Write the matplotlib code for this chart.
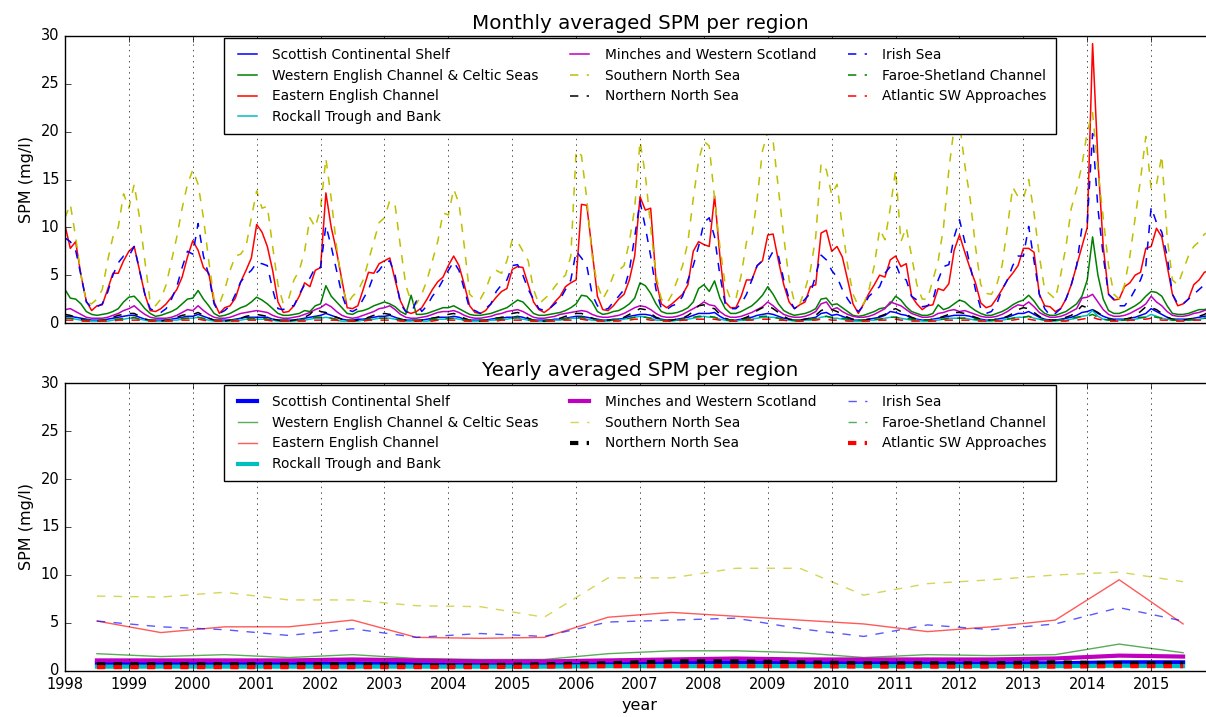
import numpy as np
import matplotlib
matplotlib.use('Agg')
import matplotlib.pyplot as plt

plt.style.use('classic')

years = list(range(1998, 2016))
mid_years = [y + 0.5 for y in years]

regions = ['Scottish Continental Shelf', 'Western English Channel & Celtic Seas',
           'Eastern English Channel', 'Rockall Trough and Bank',
           'Minches and Western Scotland', 'Southern North Sea', 'Northern North Sea',
           'Irish Sea', 'Faroe-Shetland Channel', 'Atlantic SW Approaches']

# monthly averaged SPM (mg/l), one row per year, Jan..Dec
scs_monthly = [
    [0.7, 0.7, 0.6, 0.5, 0.4, 0.3, 0.3, 0.3, 0.4, 0.5, 0.6, 0.7],
    [0.8, 0.8, 0.6, 0.4, 0.3, 0.3, 0.3, 0.3, 0.4, 0.5, 0.6, 0.7],
    [0.7, 0.9, 0.7, 0.5, 0.3, 0.3, 0.3, 0.3, 0.4, 0.5, 0.6, 0.6],
    [0.6, 0.6, 0.6, 0.4, 0.3, 0.3, 0.3, 0.3, 0.4, 0.5, 0.6, 0.7],
    [0.8, 1.0, 0.8, 0.6, 0.4, 0.3, 0.3, 0.4, 0.4, 0.5, 0.6, 0.7],
    [0.7, 0.8, 0.6, 0.4, 0.3, 0.3, 0.3, 0.3, 0.4, 0.5, 0.6, 0.6],
    [0.6, 0.7, 0.6, 0.4, 0.3, 0.3, 0.3, 0.3, 0.4, 0.5, 0.5, 0.6],
    [0.6, 0.7, 0.6, 0.4, 0.3, 0.3, 0.3, 0.3, 0.4, 0.4, 0.5, 0.6],
    [0.7, 0.7, 0.6, 0.5, 0.4, 0.3, 0.3, 0.4, 0.4, 0.5, 0.7, 0.8],
    [0.9, 0.9, 0.8, 0.5, 0.4, 0.3, 0.3, 0.4, 0.5, 0.6, 0.8, 1.0],
    [1.0, 1.0, 1.1, 0.7, 0.4, 0.3, 0.3, 0.4, 0.5, 0.6, 0.8, 0.9],
    [1.0, 0.9, 0.7, 0.5, 0.4, 0.3, 0.3, 0.4, 0.5, 0.6, 1.0, 1.1],
    [0.8, 0.9, 0.7, 0.5, 0.3, 0.3, 0.3, 0.4, 0.5, 0.6, 0.8, 1.2],
    [1.1, 0.9, 0.8, 0.5, 0.4, 0.3, 0.3, 0.4, 0.5, 0.6, 0.7, 0.8],
    [0.8, 0.8, 0.7, 0.5, 0.4, 0.3, 0.3, 0.4, 0.5, 0.6, 0.8, 1.0],
    [1.0, 1.2, 0.9, 0.6, 0.4, 0.3, 0.3, 0.4, 0.5, 0.6, 0.8, 1.1],
    [1.2, 1.4, 1.0, 0.7, 0.5, 0.4, 0.4, 0.4, 0.5, 0.6, 0.8, 1.0],
    [1.5, 1.2, 0.9, 0.6, 0.4, 0.4, 0.4, 0.4, 0.5, 0.6, 0.7, 0.8],
]
wec_monthly = [
    [3.5, 2.6, 2.5, 2.0, 1.2, 0.9, 0.8, 0.9, 1.0, 1.2, 1.5, 2.2],
    [2.7, 2.8, 2.2, 1.5, 1.0, 0.7, 0.8, 1.0, 1.2, 1.5, 2.0, 2.5],
    [2.6, 3.4, 2.5, 1.8, 1.0, 0.7, 0.8, 1.0, 1.3, 1.6, 1.8, 2.2],
    [2.7, 2.4, 2.0, 1.5, 1.0, 0.8, 0.8, 0.9, 1.0, 1.3, 1.2, 1.8],
    [2.0, 3.9, 2.8, 2.2, 1.6, 1.0, 0.9, 1.2, 1.3, 1.5, 1.8, 2.0],
    [2.2, 2.0, 1.7, 1.2, 0.9, 2.9, 0.9, 0.9, 1.0, 1.2, 1.4, 1.6],
    [1.6, 1.8, 1.5, 1.2, 0.9, 0.8, 0.8, 0.9, 1.0, 1.2, 1.4, 1.6],
    [2.0, 2.4, 2.2, 1.6, 1.0, 0.8, 0.8, 0.9, 1.0, 1.1, 1.3, 1.6],
    [2.0, 2.9, 2.8, 2.2, 1.2, 0.9, 1.0, 1.2, 1.3, 1.6, 2.0, 2.6],
    [4.2, 3.9, 3.1, 2.0, 1.2, 1.0, 1.0, 1.1, 1.3, 1.6, 2.2, 3.6],
    [4.0, 3.3, 4.4, 2.6, 1.5, 1.0, 1.0, 1.2, 1.5, 1.8, 2.3, 2.9],
    [3.8, 3.0, 2.0, 1.3, 1.0, 0.8, 0.9, 1.0, 1.2, 1.5, 2.5, 2.6],
    [1.9, 2.0, 1.6, 1.2, 0.8, 0.7, 0.8, 1.0, 1.2, 1.5, 1.6, 2.0],
    [2.8, 2.4, 1.7, 1.2, 1.0, 0.8, 0.8, 1.0, 1.9, 1.4, 1.6, 2.0],
    [2.4, 2.2, 1.7, 1.3, 1.0, 0.8, 0.8, 1.0, 1.2, 1.5, 1.9, 2.2],
    [2.4, 2.9, 2.3, 1.5, 1.0, 0.8, 0.8, 1.0, 1.2, 1.6, 2.0, 2.8],
    [4.5, 9.0, 5.0, 2.5, 1.3, 1.0, 1.0, 1.2, 1.5, 1.8, 2.2, 2.8],
    [3.3, 3.2, 2.8, 1.8, 1.0, 0.9, 0.9, 1.0, 1.2, 1.4, 1.4, 1.6],
]
eec_monthly = [
    [10.2, 7.8, 8.5, 5.0, 2.3, 1.3, 1.8, 1.9, 3.5, 5.2, 5.2, 6.5],
    [7.5, 8.0, 5.5, 3.0, 1.3, 1.2, 1.5, 2.0, 2.7, 3.5, 4.8, 6.9],
    [8.6, 7.6, 5.8, 5.2, 2.2, 1.0, 1.6, 1.8, 2.6, 4.3, 5.5, 6.8],
    [10.3, 9.5, 8.0, 5.5, 2.2, 1.1, 1.2, 1.8, 2.8, 4.2, 3.8, 5.5],
    [5.8, 13.6, 10.0, 7.5, 4.5, 1.6, 1.5, 1.8, 3.5, 5.3, 5.2, 6.2],
    [6.5, 6.8, 4.5, 2.3, 1.2, 1.0, 1.2, 1.6, 2.5, 3.5, 4.3, 4.8],
    [6.0, 7.0, 6.0, 4.0, 1.8, 1.1, 1.0, 1.3, 2.0, 2.7, 3.3, 3.6],
    [5.6, 5.9, 5.8, 4.0, 2.2, 1.4, 1.1, 1.5, 2.2, 2.8, 3.8, 4.2],
    [4.5, 12.4, 12.3, 7.5, 2.8, 1.4, 1.3, 1.8, 2.5, 3.0, 4.5, 7.0],
    [13.2, 11.8, 12.0, 4.5, 2.0, 1.6, 2.0, 2.5, 3.0, 4.0, 7.5, 8.5],
    [8.2, 8.0, 13.3, 7.0, 2.2, 1.6, 1.6, 2.8, 4.5, 4.5, 6.0, 6.5],
    [9.2, 9.3, 6.5, 4.0, 2.2, 1.5, 1.9, 2.2, 3.8, 4.0, 9.4, 9.7],
    [7.5, 8.0, 6.9, 4.5, 2.0, 1.0, 2.0, 3.1, 4.0, 5.0, 4.8, 6.6],
    [7.0, 5.9, 6.2, 2.8, 2.0, 1.4, 1.8, 1.9, 3.6, 3.4, 4.1, 7.6],
    [9.2, 7.4, 5.7, 4.2, 2.1, 1.6, 1.8, 2.6, 3.5, 4.5, 5.2, 6.0],
    [7.8, 7.8, 7.4, 3.0, 1.8, 1.7, 1.2, 1.5, 2.5, 4.0, 6.0, 8.0],
    [10.0, 29.2, 17.0, 8.0, 3.0, 2.4, 2.5, 3.8, 4.2, 5.0, 5.3, 7.8],
    [8.0, 9.9, 9.0, 6.0, 3.0, 1.8, 2.0, 2.5, 4.0, 4.5, 5.3, 5.5],
]
rtb_monthly = [
    [0.5, 0.5, 0.4, 0.3, 0.2, 0.2, 0.2, 0.2, 0.2, 0.3, 0.4, 0.4],
    [0.5, 0.5, 0.4, 0.3, 0.2, 0.2, 0.2, 0.2, 0.3, 0.3, 0.4, 0.5],
    [0.5, 0.6, 0.4, 0.3, 0.2, 0.2, 0.2, 0.2, 0.3, 0.3, 0.4, 0.4],
    [0.4, 0.4, 0.4, 0.3, 0.2, 0.2, 0.2, 0.2, 0.3, 0.3, 0.4, 0.5],
    [0.5, 0.6, 0.5, 0.3, 0.2, 0.2, 0.2, 0.2, 0.3, 0.3, 0.4, 0.5],
    [0.5, 0.5, 0.4, 0.3, 0.2, 0.2, 0.3, 0.2, 0.2, 0.3, 0.4, 0.4],
    [0.4, 0.5, 0.4, 0.3, 0.2, 0.2, 0.2, 0.2, 0.3, 0.3, 0.4, 0.4],
    [0.5, 0.5, 0.4, 0.3, 0.2, 0.2, 0.2, 0.2, 0.3, 0.3, 0.4, 0.5],
    [0.5, 0.5, 0.4, 0.3, 0.3, 0.2, 0.2, 0.3, 0.3, 0.4, 0.5, 0.6],
    [0.7, 0.6, 0.5, 0.3, 0.3, 0.2, 0.2, 0.3, 0.3, 0.4, 0.5, 0.6],
    [0.7, 0.6, 0.6, 0.4, 0.3, 0.2, 0.2, 0.3, 0.3, 0.4, 0.5, 0.6],
    [0.6, 0.6, 0.5, 0.3, 0.3, 0.2, 0.2, 0.3, 0.3, 0.4, 0.6, 0.7],
    [0.5, 0.5, 0.4, 0.3, 0.2, 0.2, 0.2, 0.3, 0.3, 0.4, 0.5, 0.6],
    [0.6, 0.5, 0.4, 0.3, 0.3, 0.2, 0.2, 0.3, 0.3, 0.4, 0.5, 0.5],
    [0.5, 0.5, 0.4, 0.3, 0.3, 0.2, 0.2, 0.3, 0.3, 0.4, 0.5, 0.6],
    [0.6, 0.7, 0.5, 0.4, 0.3, 0.2, 0.2, 0.3, 0.3, 0.4, 0.5, 0.7],
    [0.8, 1.3, 0.7, 0.4, 0.3, 0.3, 0.3, 0.3, 0.3, 0.4, 0.5, 0.6],
    [0.9, 0.7, 0.5, 0.4, 0.3, 0.3, 0.3, 0.3, 0.3, 0.4, 0.5, 0.5],
]
mws_monthly = [
    [1.4, 1.5, 1.2, 0.9, 0.6, 0.5, 0.5, 0.5, 0.6, 0.8, 1.0, 1.3],
    [1.5, 1.8, 1.3, 0.9, 0.6, 0.5, 0.5, 0.5, 0.6, 0.8, 1.1, 1.4],
    [1.3, 1.8, 1.3, 0.9, 0.6, 0.5, 0.5, 0.6, 0.8, 1.0, 1.1, 1.2],
    [1.3, 1.2, 1.1, 0.8, 0.6, 0.5, 0.5, 0.6, 0.7, 0.9, 1.1, 1.4],
    [1.6, 2.0, 1.7, 1.2, 0.8, 0.6, 0.5, 0.6, 0.8, 1.0, 1.2, 1.5],
    [1.6, 1.8, 1.4, 0.9, 0.6, 0.5, 0.5, 0.6, 0.7, 0.9, 1.1, 1.2],
    [1.2, 1.3, 1.1, 0.8, 0.6, 0.5, 0.5, 0.6, 0.7, 0.9, 1.0, 1.2],
    [1.3, 1.4, 1.2, 0.9, 0.6, 0.5, 0.5, 0.6, 0.7, 0.9, 1.0, 1.1],
    [1.2, 1.3, 1.2, 0.9, 0.7, 0.6, 0.6, 0.7, 0.8, 1.0, 1.3, 1.6],
    [1.8, 1.7, 1.4, 1.0, 0.7, 0.6, 0.6, 0.7, 0.9, 1.2, 1.5, 1.8],
    [2.2, 1.9, 1.8, 1.2, 0.8, 0.6, 0.6, 0.7, 0.9, 1.1, 1.4, 1.7],
    [2.2, 1.8, 1.3, 0.9, 0.7, 0.6, 0.6, 0.7, 0.9, 1.2, 2.0, 2.2],
    [1.4, 1.6, 1.2, 0.9, 0.7, 0.6, 0.6, 0.7, 0.9, 1.2, 1.5, 2.2],
    [2.0, 1.8, 1.4, 1.0, 0.8, 0.6, 0.6, 0.7, 1.0, 1.1, 1.3, 1.4],
    [1.2, 1.3, 1.1, 0.9, 0.7, 0.6, 0.6, 0.7, 0.9, 1.2, 1.6, 1.9],
    [1.8, 2.2, 1.7, 1.1, 0.8, 0.6, 0.6, 0.7, 0.9, 1.2, 1.5, 2.6],
    [2.7, 3.0, 2.2, 1.4, 0.9, 0.7, 0.7, 0.8, 1.0, 1.3, 1.6, 2.0],
    [2.8, 2.2, 1.8, 1.2, 0.8, 0.7, 0.7, 0.8, 1.0, 1.1, 1.3, 1.5],
]
sns_monthly = [
    [11.0, 12.4, 9.0, 5.0, 2.2, 2.0, 2.5, 3.5, 6.5, 9.0, 10.0, 13.5],
    [12.0, 14.5, 11.0, 6.5, 2.2, 1.8, 2.5, 4.0, 6.5, 9.0, 12.0, 14.5],
    [16.0, 14.5, 11.0, 6.5, 2.5, 2.0, 3.5, 5.5, 7.0, 7.2, 8.0, 11.0],
    [13.8, 12.0, 12.2, 8.0, 4.0, 2.0, 2.5, 4.5, 5.5, 7.5, 11.0, 10.0],
    [12.0, 17.2, 13.0, 8.0, 4.0, 2.0, 2.8, 3.3, 4.5, 6.5, 8.5, 10.5],
    [11.0, 12.8, 12.3, 8.0, 4.0, 2.2, 2.0, 3.0, 4.5, 6.5, 8.5, 11.5],
    [11.3, 14.0, 12.5, 8.0, 3.0, 2.5, 2.5, 3.5, 5.0, 5.5, 5.2, 6.5],
    [8.7, 8.5, 7.5, 6.5, 3.5, 2.0, 2.5, 3.0, 3.8, 4.5, 5.0, 7.0],
    [18.0, 17.5, 13.0, 7.0, 4.0, 2.5, 3.5, 5.0, 5.5, 6.0, 8.5, 12.0],
    [19.0, 15.5, 10.0, 5.0, 2.5, 2.0, 3.0, 4.5, 6.0, 8.5, 13.0, 17.0],
    [19.0, 18.5, 13.0, 8.0, 4.0, 2.5, 2.5, 5.0, 8.5, 9.0, 13.0, 18.0],
    [20.0, 19.0, 14.0, 9.0, 4.5, 2.2, 2.0, 3.5, 5.5, 9.0, 16.7, 16.0],
    [13.4, 14.5, 10.0, 6.0, 3.0, 1.8, 2.0, 3.5, 6.0, 9.8, 8.7, 12.0],
    [16.0, 8.5, 10.0, 7.0, 4.0, 2.5, 2.5, 4.5, 6.5, 10.0, 16.0, 20.5],
    [21.0, 16.5, 13.0, 8.0, 4.0, 3.1, 3.0, 4.0, 6.0, 10.0, 14.2, 13.2],
    [13.0, 15.0, 11.5, 7.0, 3.5, 3.0, 2.5, 5.0, 8.0, 12.0, 14.0, 16.5],
    [20.0, 22.0, 16.0, 11.0, 6.0, 3.0, 2.5, 4.0, 7.0, 11.0, 15.0, 19.5],
    [14.0, 14.5, 17.5, 9.0, 4.5, 4.0, 5.5, 7.0, 8.0, 8.5, 9.3, 9.5],
]
nns_monthly = [
    [0.9, 0.8, 0.6, 0.4, 0.3, 0.2, 0.2, 0.3, 0.4, 0.6, 0.8, 0.9],
    [1.0, 1.0, 0.7, 0.4, 0.3, 0.2, 0.2, 0.3, 0.4, 0.6, 0.8, 0.9],
    [0.9, 1.1, 0.8, 0.5, 0.3, 0.2, 0.2, 0.3, 0.4, 0.5, 0.7, 0.8],
    [0.9, 0.8, 0.7, 0.4, 0.3, 0.2, 0.2, 0.3, 0.4, 0.6, 0.9, 1.5],
    [1.2, 1.1, 0.8, 0.6, 0.4, 0.3, 0.2, 0.3, 0.4, 0.6, 0.8, 0.9],
    [1.0, 0.9, 0.7, 0.4, 0.3, 0.2, 0.2, 0.3, 0.4, 0.5, 0.6, 0.8],
    [0.9, 1.0, 0.8, 0.5, 0.3, 0.2, 0.2, 0.3, 0.4, 0.5, 0.6, 0.7],
    [1.0, 1.1, 0.9, 0.5, 0.3, 0.2, 0.2, 0.3, 0.4, 0.5, 0.7, 0.8],
    [1.0, 1.0, 0.8, 0.5, 0.3, 0.3, 0.3, 0.3, 0.4, 0.6, 0.9, 1.2],
    [1.5, 1.4, 1.0, 0.6, 0.4, 0.3, 0.3, 0.4, 0.5, 0.8, 1.2, 1.8],
    [1.9, 1.6, 1.5, 0.9, 0.5, 0.3, 0.3, 0.4, 0.6, 0.9, 1.3, 1.6],
    [1.8, 1.5, 1.1, 0.7, 0.4, 0.3, 0.3, 0.4, 0.5, 0.8, 1.3, 1.5],
    [1.4, 1.2, 0.9, 0.6, 0.4, 0.3, 0.3, 0.4, 0.5, 0.7, 0.9, 1.3],
    [1.5, 1.2, 0.9, 0.6, 0.4, 0.3, 0.3, 0.4, 0.5, 0.7, 0.9, 1.1],
    [1.1, 1.0, 0.8, 0.6, 0.4, 0.3, 0.3, 0.4, 0.5, 0.7, 1.0, 1.4],
    [1.6, 1.5, 1.1, 0.7, 0.4, 0.3, 0.3, 0.4, 0.6, 0.8, 1.2, 1.8],
    [1.6, 1.4, 1.1, 0.7, 0.4, 0.3, 0.3, 0.4, 0.5, 0.8, 1.2, 1.7],
    [1.6, 1.4, 1.0, 0.6, 0.4, 0.3, 0.3, 0.4, 0.5, 0.7, 0.9, 1.2],
]
irs_monthly = [
    [8.9, 8.5, 7.6, 5.0, 2.2, 1.6, 1.7, 2.0, 3.2, 5.0, 6.3, 7.0],
    [7.0, 8.0, 5.5, 3.0, 1.5, 1.2, 1.1, 1.5, 2.5, 3.8, 5.8, 7.5],
    [7.2, 10.4, 7.0, 5.0, 2.0, 1.0, 1.3, 1.8, 3.0, 4.3, 5.0, 5.5],
    [6.3, 6.2, 6.0, 3.5, 1.5, 1.4, 1.8, 1.8, 3.0, 4.0, 4.7, 5.8],
    [5.8, 10.2, 8.0, 5.5, 3.0, 1.4, 1.2, 1.5, 2.5, 3.5, 5.0, 5.5],
    [6.3, 6.5, 5.0, 2.0, 1.2, 1.0, 2.3, 1.2, 1.8, 2.8, 3.5, 4.5],
    [5.5, 6.4, 5.5, 3.5, 1.5, 1.3, 1.0, 1.5, 2.0, 3.3, 4.0, 4.5],
    [6.0, 6.1, 5.0, 3.5, 2.5, 1.5, 1.3, 1.5, 2.0, 2.5, 3.5, 4.5],
    [7.5, 6.8, 6.0, 3.0, 1.8, 1.4, 1.5, 2.2, 2.8, 3.5, 5.5, 9.0],
    [12.7, 10.0, 7.0, 3.5, 1.5, 1.4, 1.8, 2.0, 2.8, 4.5, 6.0, 8.0],
    [10.5, 11.0, 9.0, 5.0, 2.0, 1.5, 1.5, 2.0, 3.0, 4.5, 6.0, 6.5],
    [6.5, 7.5, 7.0, 4.5, 2.5, 1.5, 1.9, 2.5, 3.1, 5.0, 7.1, 6.6],
    [5.5, 4.8, 3.5, 2.5, 1.7, 1.2, 1.8, 2.8, 3.3, 3.8, 5.2, 5.9],
    [6.2, 4.8, 4.5, 2.8, 2.4, 1.7, 1.8, 2.4, 4.5, 5.9, 6.1, 9.0],
    [10.8, 8.5, 6.0, 3.5, 1.5, 1.0, 1.2, 2.0, 3.5, 4.5, 6.0, 7.0],
    [7.0, 10.1, 6.5, 3.0, 1.5, 0.8, 1.0, 1.5, 2.5, 4.0, 6.0, 10.0],
    [10.5, 19.8, 12.0, 7.0, 3.0, 2.5, 1.8, 1.8, 2.5, 3.5, 4.5, 6.0],
    [12.1, 10.5, 9.5, 7.0, 3.0, 2.0, 2.0, 2.5, 3.0, 3.5, 4.0, 4.2],
]
fsc_monthly = [
    [0.5, 0.5, 0.4, 0.3, 0.3, 0.3, 0.3, 0.3, 0.3, 0.4, 0.4, 0.5],
    [0.5, 0.6, 0.4, 0.3, 0.3, 0.3, 0.3, 0.3, 0.3, 0.4, 0.5, 0.5],
    [0.5, 0.6, 0.5, 0.3, 0.3, 0.3, 0.3, 0.3, 0.3, 0.4, 0.4, 0.5],
    [0.5, 0.5, 0.4, 0.3, 0.3, 0.3, 0.3, 0.3, 0.3, 0.4, 0.5, 0.6],
    [0.6, 0.6, 0.5, 0.4, 0.3, 0.3, 0.3, 0.3, 0.3, 0.4, 0.5, 0.5],
    [0.5, 0.5, 0.4, 0.3, 0.3, 0.3, 0.3, 0.3, 0.3, 0.4, 0.4, 0.5],
    [0.5, 0.5, 0.4, 0.3, 0.3, 0.3, 0.3, 0.3, 0.3, 0.4, 0.4, 0.5],
    [0.5, 0.6, 0.5, 0.3, 0.3, 0.3, 0.3, 0.3, 0.3, 0.4, 0.4, 0.5],
    [0.5, 0.6, 0.5, 0.4, 0.3, 0.3, 0.3, 0.3, 0.4, 0.4, 0.5, 0.6],
    [0.7, 0.6, 0.5, 0.4, 0.3, 0.3, 0.3, 0.3, 0.4, 0.5, 0.6, 0.7],
    [0.7, 0.7, 0.6, 0.4, 0.3, 0.3, 0.3, 0.3, 0.4, 0.5, 0.6, 0.7],
    [0.7, 0.6, 0.5, 0.4, 0.3, 0.3, 0.3, 0.3, 0.4, 0.5, 0.6, 0.7],
    [0.6, 0.6, 0.5, 0.4, 0.3, 0.3, 0.3, 0.3, 0.4, 0.4, 0.5, 0.6],
    [0.6, 0.5, 0.5, 0.4, 0.3, 0.3, 0.3, 0.3, 0.4, 0.4, 0.5, 0.5],
    [0.5, 0.5, 0.5, 0.4, 0.3, 0.3, 0.3, 0.3, 0.4, 0.4, 0.5, 0.6],
    [0.6, 0.7, 0.5, 0.4, 0.3, 0.3, 0.3, 0.3, 0.4, 0.5, 0.6, 0.7],
    [0.7, 0.9, 0.6, 0.4, 0.3, 0.3, 0.3, 0.3, 0.4, 0.5, 0.6, 0.6],
    [0.7, 0.6, 0.5, 0.4, 0.3, 0.3, 0.3, 0.3, 0.4, 0.4, 0.5, 0.5],
]
asw_monthly = [
    [0.3, 0.3, 0.3, 0.2, 0.2, 0.2, 0.2, 0.2, 0.2, 0.2, 0.3, 0.3],
    [0.3, 0.3, 0.3, 0.2, 0.2, 0.2, 0.2, 0.2, 0.2, 0.3, 0.3, 0.3],
    [0.3, 0.4, 0.3, 0.2, 0.2, 0.2, 0.2, 0.2, 0.2, 0.2, 0.3, 0.3],
    [0.3, 0.3, 0.3, 0.2, 0.2, 0.2, 0.2, 0.2, 0.2, 0.2, 0.3, 0.3],
    [0.3, 0.4, 0.3, 0.3, 0.2, 0.2, 0.2, 0.2, 0.2, 0.3, 0.3, 0.3],
    [0.3, 0.3, 0.3, 0.2, 0.2, 0.2, 0.2, 0.2, 0.2, 0.2, 0.3, 0.3],
    [0.3, 0.3, 0.3, 0.2, 0.2, 0.2, 0.2, 0.2, 0.2, 0.2, 0.3, 0.3],
    [0.3, 0.3, 0.3, 0.2, 0.2, 0.2, 0.2, 0.2, 0.2, 0.3, 0.3, 0.3],
    [0.4, 0.4, 0.3, 0.3, 0.2, 0.2, 0.2, 0.2, 0.2, 0.3, 0.3, 0.4],
    [0.4, 0.4, 0.3, 0.3, 0.2, 0.2, 0.2, 0.2, 0.3, 0.3, 0.4, 0.4],
    [0.4, 0.4, 0.4, 0.3, 0.2, 0.2, 0.2, 0.2, 0.3, 0.3, 0.4, 0.4],
    [0.4, 0.4, 0.3, 0.3, 0.2, 0.2, 0.2, 0.2, 0.3, 0.3, 0.4, 0.4],
    [0.3, 0.3, 0.3, 0.2, 0.2, 0.2, 0.2, 0.2, 0.2, 0.3, 0.3, 0.4],
    [0.4, 0.3, 0.3, 0.2, 0.2, 0.2, 0.2, 0.2, 0.2, 0.3, 0.3, 0.3],
    [0.3, 0.3, 0.3, 0.2, 0.2, 0.2, 0.2, 0.2, 0.2, 0.3, 0.3, 0.4],
    [0.4, 0.4, 0.3, 0.2, 0.2, 0.2, 0.2, 0.2, 0.2, 0.3, 0.3, 0.4],
    [0.5, 0.6, 0.4, 0.3, 0.2, 0.2, 0.2, 0.2, 0.3, 0.3, 0.4, 0.4],
    [0.5, 0.4, 0.3, 0.3, 0.2, 0.2, 0.2, 0.2, 0.3, 0.3, 0.3, 0.4],
]

# yearly averaged SPM (mg/l), plotted at mid-year
scs_yearly = [0.8, 0.8, 0.8, 0.7, 0.8, 0.7, 0.7, 0.7, 0.8, 0.9, 0.9, 0.9, 0.9, 0.8, 0.8, 0.8, 0.9, 0.9]
wec_yearly = [1.8, 1.5, 1.7, 1.4, 1.7, 1.3, 1.2, 1.2, 1.8, 2.1, 2.1, 1.9, 1.4, 1.7, 1.6, 1.7, 2.8, 1.9]
eec_yearly = [5.2, 4.0, 4.6, 4.6, 5.3, 3.5, 3.4, 3.5, 5.6, 6.1, 5.7, 5.3, 4.9, 4.1, 4.6, 5.3, 9.5, 4.9]
rtb_yearly = [0.45, 0.45, 0.45, 0.45, 0.45, 0.45, 0.45, 0.45, 0.5, 0.5, 0.5, 0.5, 0.5, 0.5, 0.5, 0.5, 0.55, 0.5]
mws_yearly = [1.1, 1.1, 1.1, 1.1, 1.2, 1.1, 1.0, 1.0, 1.1, 1.2, 1.3, 1.2, 1.2, 1.2, 1.2, 1.3, 1.6, 1.5]
sns_yearly = [7.8, 7.7, 8.2, 7.4, 7.4, 6.8, 6.7, 5.6, 9.7, 9.7, 10.7, 10.7, 7.9, 9.1, 9.5, 10.0, 10.3, 9.3]
nns_yearly = [0.7, 0.7, 0.7, 0.7, 0.7, 0.6, 0.6, 0.7, 0.8, 1.0, 1.0, 0.9, 0.8, 0.8, 0.8, 0.9, 0.8, 0.8]
irs_yearly = [5.2, 4.6, 4.3, 3.7, 4.4, 3.5, 3.9, 3.6, 5.1, 5.3, 5.5, 4.4, 3.6, 4.8, 4.3, 4.9, 6.6, 5.2]
fsc_yearly = [0.45, 0.45, 0.45, 0.45, 0.45, 0.4, 0.4, 0.45, 0.45, 0.5, 0.5, 0.5, 0.45, 0.45, 0.45, 0.5, 0.5, 0.45]
asw_yearly = [0.4, 0.4, 0.4, 0.4, 0.4, 0.4, 0.4, 0.45, 0.5, 0.5, 0.5, 0.5, 0.45, 0.45, 0.45, 0.45, 0.5, 0.5]

monthly = [scs_monthly, wec_monthly, eec_monthly, rtb_monthly, mws_monthly,
           sns_monthly, nns_monthly, irs_monthly, fsc_monthly, asw_monthly]
yearly = [scs_yearly, wec_yearly, eec_yearly, rtb_yearly, mws_yearly,
          sns_yearly, nns_yearly, irs_yearly, fsc_yearly, asw_yearly]
colors = ['b', 'g', 'r', 'c', 'm', 'y', 'k', 'b', 'g', 'r']
styles = ['-', '-', '-', '-', '-', '--', '--', '--', '--', '--']
thick = [True, False, False, True, True, False, True, False, False, True]

month_x = np.array([y + m / 12.0 for y in years for m in range(12)])

fig = plt.figure(figsize=(12.06, 7.17), dpi=100, facecolor='white')
ax1 = fig.add_axes([0.0539, 0.5495, 0.9536, 0.4003])
ax2 = fig.add_axes([0.0539, 0.0642, 0.9536, 0.4016])

for i in range(len(regions)):
    ax1.plot(month_x, np.array(monthly[i]).ravel(), color=colors[i], ls=styles[i],
             lw=1.1, label=regions[i])
    if thick[i]:
        ax2.plot(mid_years, yearly[i], color=colors[i], ls=styles[i], lw=3.0,
                 label=regions[i])
    else:
        ax2.plot(mid_years, yearly[i], color=colors[i], ls=styles[i], lw=1.0,
                 alpha=0.65, label=regions[i])

for ax, title in [(ax1, 'Monthly averaged SPM per region'),
                  (ax2, 'Yearly averaged SPM per region')]:
    ax.set_xlim(1998, 2016)
    ax.set_ylim(0, 30)
    ax.set_xticks(years)
    ax.set_yticks([0, 5, 10, 15, 20, 25, 30])
    ax.ticklabel_format(axis='x', useOffset=False, style='plain')
    ax.xaxis.grid(True)
    ax.tick_params(labelsize=10.5)
    ax.set_ylabel('SPM (mg/l)', fontsize=11.5)
    ax.set_title(title, fontsize=14.3)
    ax.legend(loc='upper center', ncol=3, fontsize=9.9, borderaxespad=0.15,
              borderpad=0.7, fancybox=False, framealpha=1)

ax1.tick_params(labelbottom=False)
ax2.set_xlabel('year', fontsize=11.5)

fig.savefig('out.png', dpi=100, facecolor='white')
